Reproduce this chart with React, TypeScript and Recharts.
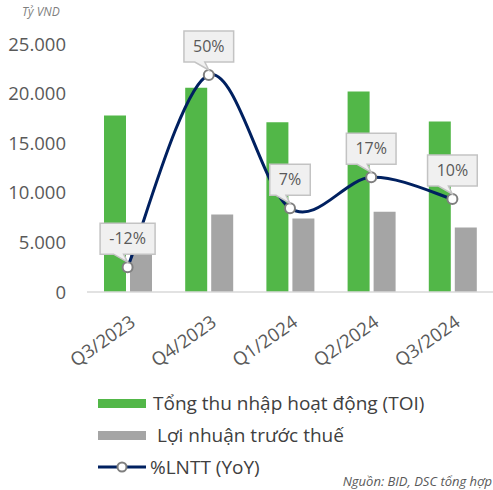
import { Bar, ComposedChart, Line, XAxis, YAxis } from "recharts";

const quarters = ["Q3/2023", "Q4/2023", "Q1/2024", "Q2/2024", "Q3/2024"];
const toi = [17800, 20600, 17100, 20200, 17200];
const lntt = [6000, 7800, 7400, 8100, 6500];
const lnttYoY = [-12, 50, 7, 17, 10];
const yTicks = [0, 5000, 10000, 15000, 20000, 25000];

const GREEN = "#52b748";
const GRAY = "#a5a5a5";
const NAVY = "#002060";
const FONT = "'Open Sans', 'Noto Sans', sans-serif";

const data = quarters.map((q, i) => ({
    q,
    toi: toi[i],
    lntt: lntt[i],
    yoy: lnttYoY[i],
}));

// Excel-like smoothed line (Catmull-Rom through the points)
function smoothCurve(context: any) {
    let pts: number[][] = [];
    return {
        areaStart() {},
        areaEnd() {},
        lineStart() {
            pts = [];
        },
        point(x: number, y: number) {
            pts.push([+x, +y]);
        },
        lineEnd() {
            if (!pts.length) return;
            context.moveTo(pts[0][0], pts[0][1]);
            for (let i = 0; i < pts.length - 1; i++) {
                const p0 = pts[Math.max(i - 1, 0)];
                const p1 = pts[i];
                const p2 = pts[i + 1];
                const p3 = pts[Math.min(i + 2, pts.length - 1)];
                context.bezierCurveTo(
                    p1[0] + (p2[0] - p0[0]) / 6,
                    p1[1] + (p2[1] - p0[1]) / 6,
                    p2[0] - (p3[0] - p1[0]) / 6,
                    p2[1] - (p3[1] - p1[1]) / 6,
                    p2[0],
                    p2[1]
                );
            }
        },
    };
}

function textWidth(s: string) {
    let w = 0;
    for (const c of s) {
        if (c === "%") w += 13.3;
        else if (c === "-") w += 5.3;
        else w += 9.2;
    }
    return w;
}

function Callout(props: any) {
    const { x, y, value } = props;
    const label = `${value}%`;
    const w = textWidth(label) + 18;
    const h = 31;
    const left = x - w / 2;
    const right = x + w / 2;
    const bottom = y - 13;
    const top = bottom - h;
    const d = `M${left},${top} H${right} V${bottom} H${x - 4} L${x},${y - 5} L${x - 14},${bottom} H${left} Z`;
    return (
        <g>
            <path d={d} fill="#f0f0f0" stroke="#c3c3c3" strokeWidth={1.5} />
            <text x={x} y={top + h / 2 + 5.5} textAnchor="middle" fontSize={16} fill="#595959" fontFamily={FONT}>
                {label}
            </text>
        </g>
    );
}

function XTick(props: any) {
    const { x, y, payload } = props;
    const ax = x + 9;
    const ay = y + 25;
    return (
        <text
            x={ax}
            y={ay}
            textAnchor="end"
            fontSize={18.5}
            fill="#595959"
            fontFamily={FONT}
            transform={`rotate(-35, ${ax}, ${ay})`}
        >
            {payload.value}
        </text>
    );
}

function LegendBox() {
    const row = { display: "flex", alignItems: "center", height: 32 } as const;
    const txt = { fontSize: 19, color: "#404040", fontFamily: FONT, marginLeft: 7 } as const;
    return (
        <div>
            <div style={row}>
                <div style={{ width: 48, height: 9, background: GREEN }} />
                <span style={txt}>Tổng thu nhập hoạt động (TOI)</span>
            </div>
            <div style={row}>
                <div style={{ width: 48, height: 9, background: GRAY }} />
                <span style={{ ...txt, marginLeft: 11 }}>Lợi nhuận trước thuế</span>
            </div>
            <div style={row}>
                <svg width={48} height={12}>
                    <line x1={0} y1={6} x2={48} y2={6} stroke={NAVY} strokeWidth={3} />
                    <circle cx={24} cy={6} r={4.5} fill="#fff" stroke="#7f7f7f" strokeWidth={2} />
                </svg>
                <span style={{ ...txt, marginLeft: 4 }}>%LNTT (YoY)</span>
            </div>
        </div>
    );
}

export default function App() {
    return (
        <div style={{ position: "absolute", left: 0, top: 0, width: 493, height: 490, background: "#fff" }}>
            <div style={{ position: "absolute", left: 22, top: 3, fontSize: 12, fontStyle: "italic", color: "#7f7f7f", fontFamily: FONT }}>
                Tỷ VND
            </div>
            <ComposedChart
                width={493}
                height={490}
                data={data}
                margin={{ top: 44, right: 0, bottom: 138, left: 0 }}
                barCategoryGap="20%"
                barGap={4}
            >
                <XAxis
                    dataKey="q"
                    tick={<XTick />}
                    tickLine={false}
                    axisLine={{ stroke: "#d9d9d9", strokeWidth: 1.5 }}
                    interval={0}
                    height={60}
                />
                <YAxis
                    yAxisId="val"
                    domain={[0, 25000]}
                    ticks={yTicks}
                    interval={0}
                    width={87}
                    axisLine={false}
                    tickLine={false}
                    tickMargin={15}
                    tickFormatter={(v: number) => v.toLocaleString("de-DE")}
                    tick={{ fontSize: 18.5, fill: "#595959", fontFamily: FONT }}
                />
                <YAxis yAxisId="pct" orientation="right" domain={[-20, 60]} hide />
                <Bar yAxisId="val" dataKey="toi" fill={GREEN} barSize={22} isAnimationActive={false} />
                <Bar yAxisId="val" dataKey="lntt" fill={GRAY} barSize={22} isAnimationActive={false} />
                <Line
                    yAxisId="pct"
                    type={smoothCurve as any}
                    dataKey="yoy"
                    stroke={NAVY}
                    strokeWidth={3}
                    dot={{ r: 5, fill: "#fff", stroke: "#7f7f7f", strokeWidth: 2 }}
                    activeDot={false}
                    label={<Callout />}
                    isAnimationActive={false}
                />
            </ComposedChart>
            <div style={{ position: "absolute", left: 98, top: 387, width: 390 }}>
                <LegendBox />
            </div>
            <div style={{ position: "absolute", right: 1, top: 472, fontSize: 13, fontStyle: "italic", color: "#595959", fontFamily: FONT }}>
                Nguồn: BID, DSC tổng hợp
            </div>
        </div>
    );
}
